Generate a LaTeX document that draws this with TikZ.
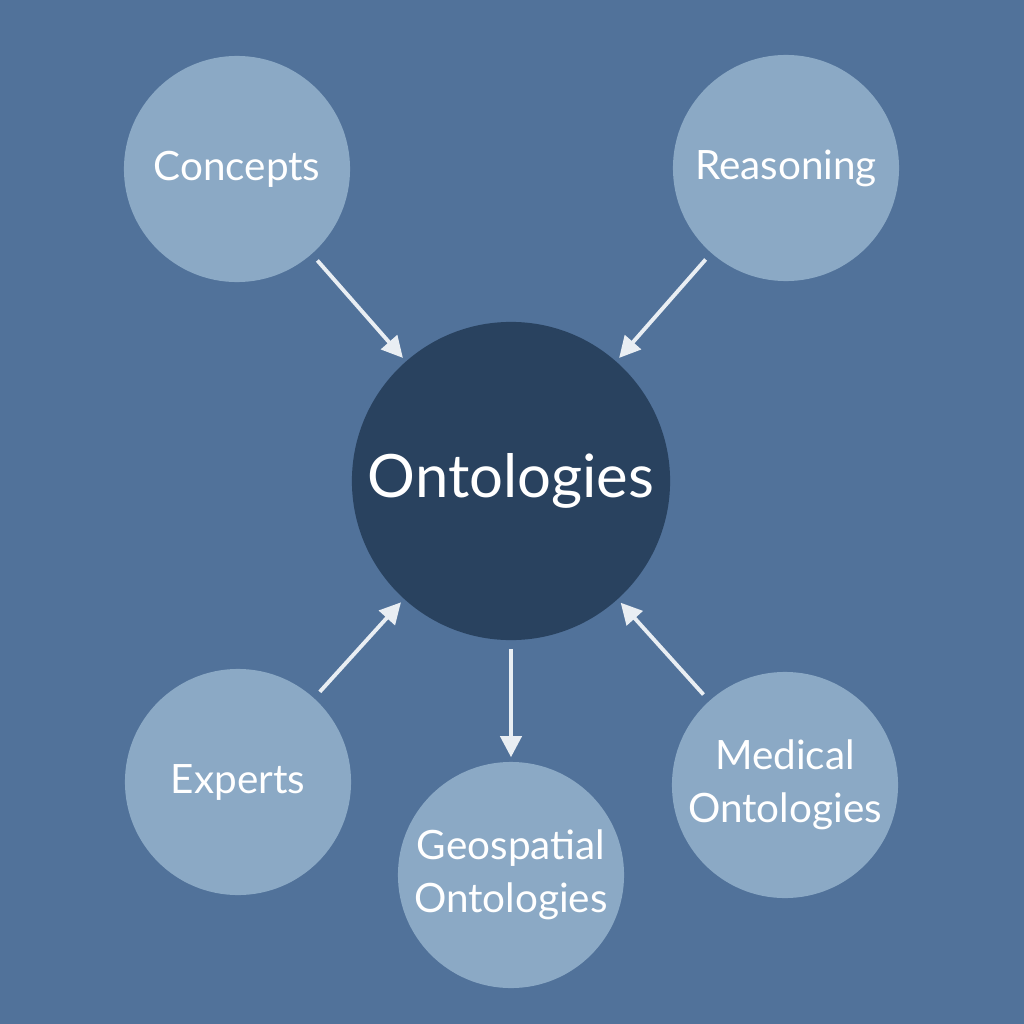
\documentclass[tikz,border=0pt]{standalone}
\usepackage{fontspec}
\setmainfont{Lato}
\usetikzlibrary{arrows.meta}
\definecolor{bgblue}{HTML}{51729A}
\definecolor{lightblue}{HTML}{8BA9C5}
\definecolor{navy}{HTML}{29425F}
\definecolor{arrowwhite}{HTML}{E9EEF3}
\begin{document}
\begin{tikzpicture}[x=0.01cm,y=-0.01cm,
    topic/.style={circle, fill=lightblue, minimum size=2.26cm, inner sep=0pt,
        text=white, align=center, font=\fontsize{11.5}{15}\selectfont},
    hub/.style={circle, fill=navy, minimum size=3.18cm, inner sep=0pt,
        text=white, font=\fontsize{17}{20}\selectfont},
    link/.style={draw=arrowwhite, line width=1.1pt,
        -{Triangle[width=6pt,length=6pt]}, shorten <=0.08cm, shorten >=0.04cm}]
    \useasboundingbox (0,0) rectangle (1024,1024);
    \fill[bgblue] (0,0) rectangle (1024,1024);

    % central node
    \node[hub] (onto) at (511,481) {Ontologies};

    % surrounding topics
    \node[topic] (concepts) at (237,169) {Concepts};
    \node[topic] (reasoning) at (786,168) {Reasoning};
    \node[topic] (experts) at (238,782) {Experts};
    \node[topic] (geo) at (511,875) {Geospatial\\Ontologies};
    \node[topic] (medical) at (785,785) {Medical\\Ontologies};

    \draw[link] (concepts) -- (onto);
    \draw[link] (reasoning) -- (onto);
    \draw[link] (experts) -- (onto);
    \draw[link] (medical) -- (onto);
    \draw[link] (onto) -- (geo);
\end{tikzpicture}
\end{document}
